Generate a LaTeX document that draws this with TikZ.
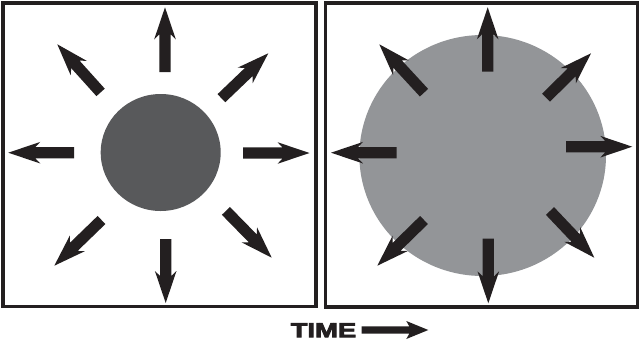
\documentclass[tikz,border=0pt]{standalone}
\usepackage{fontspec}
\usetikzlibrary{calc}
\newfontfamily\timefont{Liberation Sans Bold}[FakeBold=3.5]
\definecolor{ink}{HTML}{231F20}
\definecolor{darkball}{HTML}{58595B}
\definecolor{lightball}{HTML}{939598}
\tikzset{
  panel/.style={draw=ink, line width=3.5pt},
  arrowfill/.style={fill=ink},
}
% #1 tail, #2 tip, #3 shaft half width, #4 head half width, #5 head length, #6 neck distance from tip
\newcommand{\fatarrow}[6]{%
  \fill[arrowfill]
    ($(#1)!#3!90:(#2)$) --
    ($($(#2)!#6!(#1)$)!#3!90:(#2)$) --
    ($($(#2)!#5!(#1)$)!#4!90:(#2)$) --
    (#2) --
    ($($(#2)!#5!(#1)$)!#4!-90:(#2)$) --
    ($($(#2)!#6!(#1)$)!#3!-90:(#2)$) --
    ($(#1)!#3!-90:(#2)$) -- cycle;}
\newcommand{\ray}[2]{\fatarrow{#1}{#2}{5.6pt}{10.8pt}{32pt}{27pt}}
\begin{document}
\begin{tikzpicture}[x=1pt,y=-1pt]
\useasboundingbox[fill=white] (0,0) rectangle (640,346);
% panels
\draw[panel] (3,3) rectangle (316,306.5);
\draw[panel] (325.3,3) rectangle (637.5,307);
% balls
\fill[darkball] (160.7,152.5) ellipse [x radius=60, y radius=58.5];
\fill[lightball] (482.7,155.5) ellipse [x radius=123.3, y radius=120.5];
% left panel arrows
\coordinate (lUt) at (165,72);     \coordinate (lUp) at (165,7.3);
\coordinate (lDt) at (165.7,239);  \coordinate (lDp) at (165.7,303);
\coordinate (lLt) at (74,152.7);   \coordinate (lLp) at (8.3,152.7);
\coordinate (lRt) at (243,153);    \coordinate (lRp) at (309.5,153);
\coordinate (lULt) at (100.6,92.4); \coordinate (lULp) at (57.3,44.3);
\coordinate (lURt) at (221.4,98.2); \coordinate (lURp) at (268.3,53.3);
\coordinate (lLLt) at (101.5,220);  \coordinate (lLLp) at (54.3,265.7);
\coordinate (lLRt) at (225.9,210.9); \coordinate (lLRp) at (271.7,257.7);
\ray{lUt}{lUp}
\ray{lDt}{lDp}
\ray{lLt}{lLp}
\ray{lRt}{lRp}
\ray{lULt}{lULp}
\ray{lURt}{lURp}
\ray{lLLt}{lLLp}
\ray{lLRt}{lLRp}
% right panel arrows
\coordinate (rUt) at (487.7,71.7);  \coordinate (rUp) at (487.7,7.3);
\coordinate (rDt) at (488.3,238.7); \coordinate (rDp) at (488.3,303.3);
\coordinate (rLt) at (396.7,152.7); \coordinate (rLp) at (331,152.7);
\coordinate (rRt) at (566,146.7);   \coordinate (rRp) at (632.3,146.7);
\coordinate (rULt) at (424,92.7);   \coordinate (rULp) at (379.3,44.3);
\coordinate (rURt) at (546,97.7);   \coordinate (rURp) at (591,53.3);
\coordinate (rLLt) at (424,220);    \coordinate (rLLp) at (377.3,265.7);
\coordinate (rLRt) at (550,211);    \coordinate (rLRp) at (594.3,257.7);
\ray{rUt}{rUp}
\ray{rDt}{rDp}
\ray{rLt}{rLp}
\ray{rRt}{rRp}
\ray{rULt}{rULp}
\ray{rURt}{rURp}
\ray{rLLt}{rLLp}
\ray{rLRt}{rLRp}
% time label
\node[anchor=base west, inner sep=0pt, text=ink] (time) at (290.5,337.2)
  {\resizebox{65.5pt}{14pt}{\timefont TIME}};
\coordinate (tTail) at (361.7,330);
\coordinate (tTip) at (428.3,330);
\fatarrow{tTail}{tTip}{3.6pt}{9pt}{22pt}{19pt}
\end{tikzpicture}
\end{document}
